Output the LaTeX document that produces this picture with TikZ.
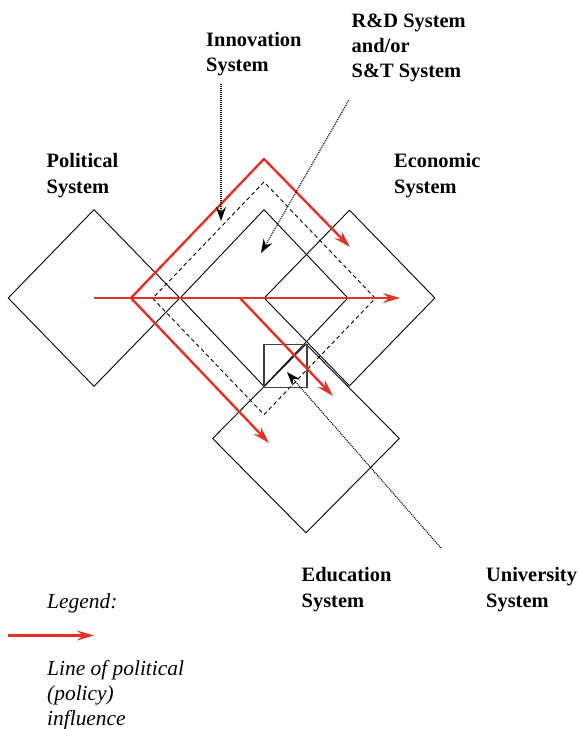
\documentclass[tikz,border=0pt]{standalone}
\usepackage{fontspec}
\setmainfont{Liberation Serif}
\usetikzlibrary{arrows.meta, shapes.geometric}

\definecolor{policyred}{RGB}{226,50,38}

\tikzset{
  sysbox/.style={draw, diamond, inner sep=0pt, line width=0.9bp},
  syslabel/.style={anchor=base west, align=left, inner sep=0pt,
    font=\bfseries\fontsize{20.5}{25.5}\selectfont},
  legendtext/.style={anchor=base west, align=left, inner sep=0pt,
    font=\itshape\fontsize{21.5}{25}\selectfont},
  influence/.style={draw=policyred, line width=2.4bp,
    -{Stealth[length=17bp,width=10bp,inset=6bp]}},
  pointer/.style={line width=1.1bp, dash pattern=on 1bp off 1bp,
    -{Stealth[length=14bp,width=10bp,inset=5bp]}},
}

\begin{document}
\begin{tikzpicture}[x=1bp, y=-1bp]
    \useasboundingbox (0,0) rectangle (579,729);

    % the systems
    \node[sysbox, minimum width=172bp, minimum height=177bp] (Pol) at (94,298) {};
    \node[sysbox, minimum width=168bp, minimum height=177bp] (RD) at (264,298) {};
    \node[sysbox, minimum width=171bp, minimum height=176bp] (Eco) at (349.5,298) {};
    \node[sysbox, minimum width=187bp, minimum height=189bp] (Edu) at (306,438.5) {};
    \node[sysbox, dash pattern=on 4bp off 3bp, minimum width=223bp, minimum height=233bp] (Inno) at (264,298.3) {};
    \node[draw=black!75, line width=1.3bp, inner sep=0pt, minimum width=43bp, minimum height=43bp] (Uni) at (285.5,366) {};

    % lines of political influence
    \coordinate (Turn) at (131,298);
    \coordinate (Peak) at (264,159);
    \coordinate (EcoTip) at (350,247);
    \coordinate (EduTip) at (269,443);
    \coordinate (Fork) at (240,298);
    \coordinate (UniTip) at (333,396);
    \coordinate (Out) at (400,298);

    \draw[influence, {Stealth[length=17bp,width=10bp,inset=6bp]}-{Stealth[length=17bp,width=10bp,inset=6bp]}]
        (EduTip) -- (Turn) -- (Peak) -- (EcoTip);
    \draw[influence] (Pol.center) -- (Out);
    \draw[influence] (Fork) -- (UniTip);

    % labels (anchored at the baseline of their last line)
    \node[syslabel] (PolLab) at (46.5,193) {Political\\System};
    \node[syslabel] (EcoLab) at (394,193) {Economic\\System};
    \node[syslabel] (EduLab) at (301.5,607) {Education\\System};
    \node[syslabel] (UniLab) at (486,607) {University\\System};
    \node[syslabel] (InnoLab) at (206,72) {Innovation\\System};
    \node[syslabel] (RDLab) at (351.5,78) {R\&D System\\and/or\\S\&T System};

    % pointers
    \coordinate (InnoTail) at (221,84);
    \coordinate (InnoTip) at (221,221);
    \coordinate (RDTail) at (349,100);
    \coordinate (RDTip) at (261,253);
    \coordinate (UniTail) at (441,548);
    \coordinate (UniPoint) at (287,372);

    \draw[pointer] (InnoTail) -- (InnoTip);
    \draw[pointer] (RDTail) -- (RDTip);
    \draw[pointer] (UniTail) -- (UniPoint);

    % legend
    \node[legendtext] (Leg) at (47,608) {Legend:};
    \coordinate (KeyA) at (8,635.5);
    \coordinate (KeyB) at (94,635.5);
    \draw[influence] (KeyA) -- (KeyB);
    \node[legendtext] (Key) at (47,725) {Line of political\\(policy)\\influence};

\end{tikzpicture}
\end{document}
